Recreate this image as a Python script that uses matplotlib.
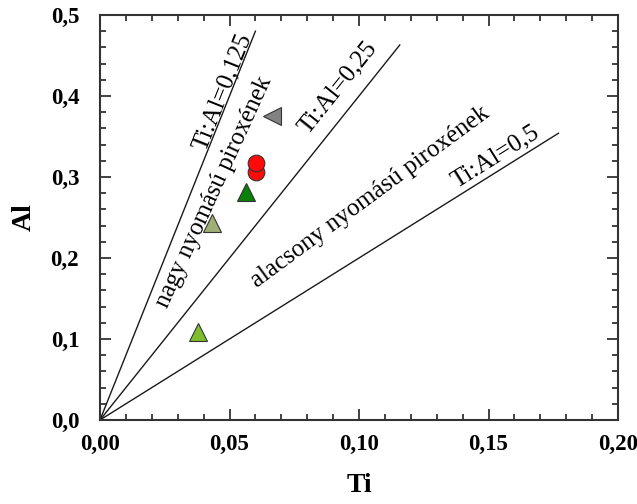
import numpy as np
import matplotlib
matplotlib.use("Agg")
import matplotlib.pyplot as plt
from matplotlib.ticker import MultipleLocator, FuncFormatter

# Ti:Al discrimination lines (ratio and upper Al end of each line)
ratios = [0.125, 0.25, 0.5]
ratio_labels = ["Ti:Al=0,125", "Ti:Al=0,25", "Ti:Al=0,5"]
line_al_max = [0.48, 0.463, 0.354]
label_ti = [0.0472, 0.0918, 0.1528]
label_al = [0.405, 0.410, 0.325]

# Pyroxene analyses
ti_values = [0.0379, 0.0433, 0.0565, 0.0603, 0.0603, 0.0665]
al_values = [0.109, 0.243, 0.281, 0.306, 0.317, 0.375]
markers = ["^", "^", "^", "o", "o", "<"]
colors = ["#7fbd2e", "#9fae74", "#0a7f0a", "#ff0a0a", "#ff0a0a", "#828282"]

# Field names
field_names = ["nagy nyomású piroxének", "alacsony nyomású piroxének"]
field_ti = [0.0441, 0.1044]
field_al = [0.281, 0.275]
field_rot = [65.5, 36.4]

plt.rcParams["font.family"] = ["Liberation Serif", "DejaVu Serif"]

fig = plt.figure(figsize=(6.37, 5.04), dpi=100)
ax = fig.add_axes([100 / 637, 1 - 420 / 504, 518 / 637, 405 / 504])
ax.set_xlim(0, 0.2)
ax.set_ylim(0, 0.5)

for r, amax in zip(ratios, line_al_max):
    al = np.array([0.0, amax])
    ax.plot(al * r, al, color="#1a1a1a", lw=1.0, zorder=2)

for s, r, x, y in zip(ratio_labels, ratios, label_ti, label_al):
    ax.text(x, y, s, rotation=np.degrees(np.arctan2(1.0, r)),
            transform_rotates_text=True, rotation_mode="anchor",
            ha="center", va="center", fontsize=18, zorder=3)

for s, x, y, rot in zip(field_names, field_ti, field_al, field_rot):
    ax.text(x, y, s, rotation=rot, rotation_mode="anchor",
            ha="center", va="center", fontsize=18, zorder=3)

for x, y, m, c in zip(ti_values, al_values, markers, colors):
    ax.plot([x], [y], marker=m, ms=12 if m == "o" else 13,
            color=c, mec="#333333", mew=0.8, ls="none", zorder=4)

ax.xaxis.set_major_locator(MultipleLocator(0.05))
ax.xaxis.set_minor_locator(MultipleLocator(0.01))
ax.yaxis.set_major_locator(MultipleLocator(0.1))
ax.yaxis.set_minor_locator(MultipleLocator(0.02))
ax.xaxis.set_major_formatter(FuncFormatter(lambda v, p: f"{v:.2f}".replace(".", ",")))
ax.yaxis.set_major_formatter(FuncFormatter(lambda v, p: f"{v:.1f}".replace(".", ",")))

ax.tick_params(which="both", direction="in", top=True, right=True,
               color="#333333", width=1.3)
ax.tick_params(which="major", length=8, labelsize=16.5)
ax.tick_params(axis="x", which="major", pad=10)
ax.tick_params(axis="y", which="major", pad=15)
ax.tick_params(which="minor", length=4.5)
for lab in ax.get_xticklabels() + ax.get_yticklabels():
    lab.set_fontweight("bold")
for sp in ax.spines.values():
    sp.set_linewidth(1.5)
    sp.set_color("#333333")

ax.set_xlabel("Ti", fontsize=20, fontweight="bold", labelpad=13)
ax.set_ylabel("Al", fontsize=20, fontweight="bold", labelpad=10)

fig.savefig("out.png", dpi=100)
